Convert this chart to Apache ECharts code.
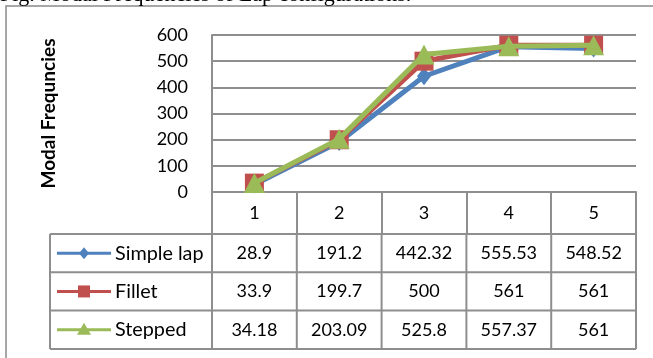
<!DOCTYPE html>
<html>
<head>
<meta charset="utf-8">
<script src="https://cdn.jsdelivr.net/npm/echarts@6/dist/echarts.min.js"></script>
<style>
  html, body { margin: 0; padding: 0; background: #ffffff; }
  #chart { width: 653px; height: 358px; }
</style>
</head>
<body>
<div id="chart"></div>
<script>
// Mode numbers along the x axis
const categories = ['1', '2', '3', '4', '5'];
// Series names
const seriesNames = ['Simple lap', 'Fillet', 'Stepped'];
// Modal frequencies per configuration
const simpleLap = [28.9, 191.2, 442.32, 555.53, 548.52];
const fillet = [33.9, 199.7, 500, 561, 561];
const stepped = [34.18, 203.09, 525.8, 557.37, 561];
// Y axis ticks
const yTicks = [0, 100, 200, 300, 400, 500, 600];

const seriesValues = [simpleLap, fillet, stepped];
const colors = ['#4F81BD', '#C0504D', '#9BBB59'];
const symbols = ['diamond', 'rect', 'triangle'];
const symbolSizes = [[14, 18], 19, [21, 20]];

const FONT = 'Lato, "Open Sans", sans-serif';
const GRID_LINE = '#8e8e8e';

const chart = echarts.init(document.getElementById('chart'), null, { renderer: 'canvas' });

const option = {
  animation: false,
  backgroundColor: '#ffffff',
  grid: { left: 212, right: 17, top: 35, bottom: 166, containLabel: false },
  xAxis: {
    type: 'category',
    data: categories,
    boundaryGap: true,
    axisLine: { show: true, lineStyle: { color: GRID_LINE, width: 2 } },
    axisTick: { show: true, length: 42, inside: false, lineStyle: { color: GRID_LINE, width: 2 } },
    axisLabel: { margin: 12, fontSize: 18, lineHeight: 18, color: '#000', fontFamily: FONT },
    splitLine: { show: false }
  },
  yAxis: {
    type: 'value',
    min: yTicks[0],
    max: yTicks[yTicks.length - 1],
    interval: yTicks[1] - yTicks[0],
    name: 'Modal Frequncies',
    nameLocation: 'middle',
    nameRotate: 90,
    nameGap: 154,
    nameTextStyle: { fontSize: 19, fontWeight: 'bold', color: '#000', fontFamily: FONT },
    axisLine: { show: true, lineStyle: { color: GRID_LINE, width: 2 } },
    axisTick: { show: false },
    axisLabel: { margin: 24, fontSize: 18, color: '#000', fontFamily: FONT },
    splitLine: { show: true, lineStyle: { color: GRID_LINE, width: 2 } }
  },
  series: seriesNames.map((name, i) => ({
    name: name,
    type: 'line',
    data: seriesValues[i],
    symbol: symbols[i],
    symbolSize: symbolSizes[i],
    showAllSymbol: true,
    lineStyle: { color: colors[i], width: 5 },
    itemStyle: { color: colors[i], borderWidth: 0 },
    z: 3 + i
  }))
};

chart.setOption(option);

// Data table beneath the plot, aligned to the category axis
function buildTable() {
  const c0 = chart.convertToPixel({ gridIndex: 0 }, [0, 0]);
  const c1 = chart.convertToPixel({ gridIndex: 0 }, [1, 0]);
  const band = c1[0] - c0[0];
  const zeroY = c0[1];
  const colEdges = [];
  for (let i = 0; i <= categories.length; i++) colEdges.push(c0[0] - band / 2 + i * band);
  const tableLeft = 50;
  const tableRight = colEdges[colEdges.length - 1];
  const headerH = 42;
  const rowH = 38.3;
  const top = zeroY + headerH;
  const lineStyle = { stroke: GRID_LINE, lineWidth: 2 };
  const els = [];

  // Horizontal rules
  for (let r = 0; r <= seriesNames.length; r++) {
    const y = top + r * rowH;
    els.push({ type: 'line', shape: { x1: tableLeft, y1: y, x2: tableRight, y2: y }, style: lineStyle, silent: true });
  }
  // Vertical rules
  const bottom = top + seriesNames.length * rowH;
  [tableLeft].concat(colEdges).forEach(x => {
    els.push({ type: 'line', shape: { x1: x, y1: top, x2: x, y2: bottom }, style: lineStyle, silent: true });
  });
  // Right edge of the header row
  els.push({ type: 'line', shape: { x1: tableRight, y1: zeroY, x2: tableRight, y2: top }, style: lineStyle, silent: true });

  seriesNames.forEach((name, r) => {
    const cy = top + r * rowH + rowH / 2;
    // Legend key: line with marker
    els.push({ type: 'line', shape: { x1: 57, y1: cy, x2: 111, y2: cy }, style: { stroke: colors[r], lineWidth: 3 }, silent: true });
    const mx = 84;
    if (symbols[r] === 'diamond') {
      els.push({ type: 'polygon', shape: { points: [[mx, cy - 6], [mx + 5, cy], [mx, cy + 6], [mx - 5, cy]] }, style: { fill: colors[r] }, silent: true });
    } else if (symbols[r] === 'rect') {
      els.push({ type: 'rect', shape: { x: mx - 6, y: cy - 6, width: 12, height: 12 }, style: { fill: colors[r] }, silent: true });
    } else {
      els.push({ type: 'polygon', shape: { points: [[mx, cy - 7], [mx + 7, cy + 5], [mx - 7, cy + 5]] }, style: { fill: colors[r] }, silent: true });
    }
    els.push({ type: 'text', x: 115, y: cy, style: { text: name, font: '19.8px ' + FONT, fill: '#000', align: 'left', verticalAlign: 'middle' }, silent: true });
    // Values
    seriesValues[r].forEach((v, i) => {
      const cx = (colEdges[i] + colEdges[i + 1]) / 2;
      els.push({ type: 'text', x: cx, y: cy, style: { text: String(v), font: '18px ' + FONT, fill: '#000', align: 'center', verticalAlign: 'middle' }, silent: true });
    });
  });

  // Chart frame
  els.push({ type: 'rect', shape: { x: 6, y: 6, width: 700, height: 420 }, style: { fill: 'none', stroke: '#8a8a8a', lineWidth: 1.5 }, silent: true, z: -1 });
  // Figure caption above the frame
  els.push({ type: 'text', x: 0, y: 6, style: { text: 'Fig. Modal Frequencies of Lap configurations.', font: '22px "Liberation Serif", serif', fill: '#000', align: 'left', verticalAlign: 'bottom' }, silent: true });

  chart.setOption({ graphic: { elements: els } });
}
buildTable();
</script>
</body>
</html>
